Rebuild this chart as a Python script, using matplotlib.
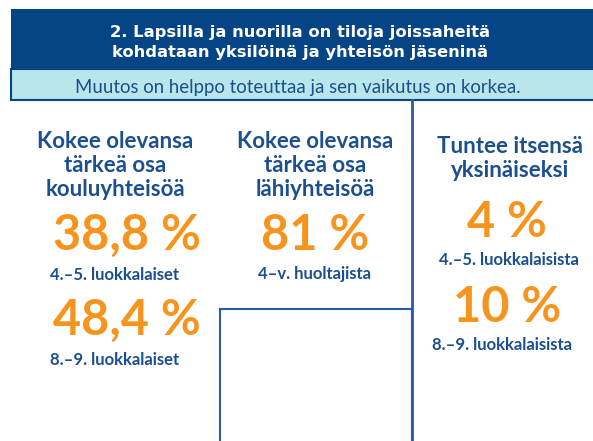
import matplotlib.pyplot as plt
from matplotlib.patches import Rectangle

plt.rcParams['font.family'] = ['Lato', 'DejaVu Sans']

title_lines = ['2. Lapsilla ja nuorilla on tiloja joissaheitä',
               'kohdataan yksilöinä ja yhteisön jäseninä']
subtitle = 'Muutos on helppo toteuttaa ja sen vaikutus on korkea.'

headings = [['Kokee olevansa', 'tärkeä osa', 'kouluyhteisöä'],
            ['Kokee olevansa', 'tärkeä osa', 'lähiyhteisöä'],
            ['Tuntee itsensä', 'yksinäiseksi']]
values = [['38,8 %', '48,4 %'], ['81 %'], ['4 %', '10 %']]
groups = [['4.–5. luokkalaiset', '8.–9. luokkalaiset'],
          ['4–v. huoltajista'],
          ['4.–5. luokkalaisista', '8.–9. luokkalaisista']]

dark_blue = '#054586'
text_blue = '#1b4f8e'
line_blue = '#2a5b9c'
orange = '#f7941d'
cyan = '#b9e6ea'

fig = plt.figure(figsize=(5.93, 4.41), dpi=100)
ax = fig.add_axes([0, 0, 1, 1])
ax.set_xlim(0, 593)
ax.set_ylim(441, 0)
ax.axis('off')

# header boxes
ax.add_patch(Rectangle((11, 9), 590, 60, facecolor=dark_blue, edgecolor='none'))
ax.add_patch(Rectangle((11, 69), 590, 31, facecolor=cyan, edgecolor=dark_blue, lw=1.5))
for i, line in enumerate(title_lines):
    ax.text(300, 37 + i * 20.5, line, color='white', fontsize=11.8, fontweight='bold',
            family='DejaVu Sans', ha='center', va='baseline')
ax.text(298, 92.5, subtitle, color=text_blue, fontsize=13.4, ha='center', va='baseline')

# frame lines
ax.plot([412, 412], [100, 441], color=line_blue, lw=2)
ax.plot([220, 412, 412], [309, 309, 441], color=line_blue, lw=1.5)
ax.plot([220, 220], [309, 441], color=line_blue, lw=1.5)

# columns (baselines)
col_x = [115.5, 315, 510]
head_y = [[148, 172, 195.5], [148, 172, 196], [153, 177]]
value_x = [[126.5, 126.5], [315], [507, 507.5]]
value_y = [[250, 335], [250], [237, 322]]
group_x = [[114, 114.5], [314.5], [508.5, 502.5]]
group_y = [[280, 365], [279], [265, 350]]

for c in range(3):
    for line, y in zip(headings[c], head_y[c]):
        ax.text(col_x[c], y, line, color=text_blue, fontsize=16, fontweight='bold',
                ha='center', va='baseline')
    for v, x, y in zip(values[c], value_x[c], value_y[c]):
        ax.text(x, y, v, color=orange, fontsize=35, fontweight='bold',
                ha='center', va='baseline')
    for g, x, y in zip(groups[c], group_x[c], group_y[c]):
        ax.text(x, y, g, color=text_blue, fontsize=12, fontweight='bold',
                ha='center', va='baseline')

fig.savefig('out.png', dpi=100)
